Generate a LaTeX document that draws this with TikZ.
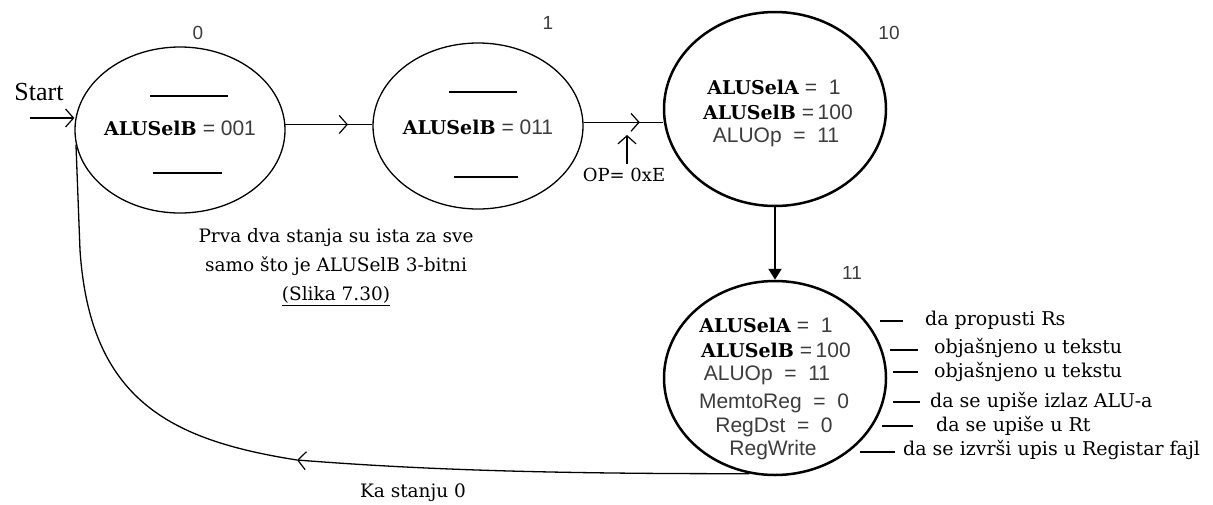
\documentclass[tikz,border=0pt]{standalone}
\usepackage{fontspec}
\setmainfont{DejaVu Serif}
\newfontfamily\slabf{DejaVu Serif}
\newfontfamily\sansf{Liberation Sans}
\newfontfamily\timesf{Liberation Serif}
\usetikzlibrary{shapes.geometric,arrows.meta,decorations.markings}
\definecolor{sanscol}{RGB}{60,60,60}
\newcommand{\Sl}[1]{{\slabf\bfseries\fontsize{19}{24}\selectfont #1}}
\newcommand{\Sa}[1]{{\sansf\fontsize{21}{24}\selectfont\color{sanscol}#1}}
\begin{document}
\begin{tikzpicture}[x=1pt,y=-1pt,
  thinstate/.style={ellipse,draw,line width=1.3pt,inner sep=0pt,minimum width=210pt,minimum height=166pt},
  thickstate/.style={ellipse,draw,line width=2.5pt,inner sep=0pt,minimum width=222pt,minimum height=194pt},
  intext/.style={inner sep=0pt,font=\fontsize{19}{24}\selectfont},
  slabel/.style={inner sep=0pt,font=\sansf\fontsize{19}{22}\selectfont,text=sanscol},
  ann/.style={anchor=west,inner sep=0pt,font=\slabf\fontsize{19}{22}\selectfont},
  conn/.style={line width=1.3pt},
  barb/.style={-{Straight Barb[length=8pt,width=18pt,line width=1.2pt]}},
  midbarb/.style={postaction={decorate},decoration={markings,mark=at position #1 with {\arrow{Straight Barb[length=8pt,width=18pt,line width=1.2pt]}}}},
  dashmark/.style={line width=2pt},
  bar/.style={line width=1.8pt}
]
\useasboundingbox (0,0) rectangle (1213,504);

% states
\node[thinstate] (s0) at (180,130) {};
\node[thinstate] (s1) at (478,126) {};
\node[thickstate] (s10) at (775,109) {};
\node[thickstate] (s11) at (775,378) {};

% state labels
\node[slabel] (l0) at (198,33) {0};
\node[slabel] (l1) at (548,23) {1};
\node[slabel] (l10) at (889,33) {10};
\node[slabel] (l11) at (852,273) {11};

% state 0 content
\draw[bar] (150,96) -- (228,96);
\node[intext] (t0) at (180,128) {\Sl{ALUSelB} \Sa{=\ 001}};
\draw[bar] (153,173) -- (222,173);

% state 1 content
\draw[bar] (449,92) -- (517,92);
\node[intext] (t1) at (478,127) {\Sl{ALUSelB} \Sa{=\ 011}};
\draw[bar] (454,177) -- (518,177);

% state 10 content
\node[intext] (t10a) at (774,87) {\Sl{ALUSelA} \Sa{=\ \ 1}};
\node[intext] (t10b) at (778,112) {\Sl{ALUSelB} \Sa{=\,100}};
\node[intext] (t10c) at (776,137) {\Sa{ALUOp\ \ =\ \ 11}};

% state 11 content
\node[intext] (t11a) at (766,325) {\Sl{ALUSelA} \Sa{=\ \ 1}};
\node[intext] (t11b) at (776,350) {\Sl{ALUSelB} \Sa{=\,100}};
\node[intext] (t11c) at (767,375) {\Sa{ALUOp\ \ =\ \ 11}};
\node[intext] (t11d) at (774,403) {\Sa{MemtoReg\ \ =\ \ 0}};
\node[intext] (t11e) at (774,427) {\Sa{RegDst\ \ =\ \ 0}};
\node[intext] (t11f) at (773,450) {\Sa{RegWrite}};

% start
\node[inner sep=0pt,font=\timesf\fontsize{26}{30}\selectfont] (start) at (39,92) {Start};
\coordinate (startp) at (30,118);
\draw[conn,barb] (startp) -- (startp -| s0.west);

% transitions
\draw[conn,midbarb=0.72] (s0.3) -- (s0.3 -| s1.west);
\draw[conn,midbarb=0.71] (s1.2) -- (s1.2 -| s10.west);

\node[inner sep=0pt,font=\slabf\fontsize{18}{22}\selectfont] (op) at (624,175) {OP= 0xE};
\coordinate (optip) at (627,135);
\draw[conn,barb] (optip |- op.north) ++(0,-4) -- (optip);

\draw[line width=2.2pt,-{Triangle[length=11pt,width=13pt]}] (s10.south) -- (s11.north);

% return path
\coordinate (rt) at (297,460);
\coordinate (c1) at (520,474);
\coordinate (c2) at (400,468);
\coordinate (c3) at (170,440);
\coordinate (c4) at (90,400);
\coordinate (c5) at (80,250);
\draw[conn,barb] (s11.255) .. controls (c1) and (c2) .. (rt);
\draw[conn] (rt) .. controls (c3) and (c4) .. (c5) -- (s0.188);
\node[inner sep=0pt,font=\slabf\fontsize{18.5}{22}\selectfont] (ka) at (413,493) {Ka stanju 0};

% note
\node[align=center,inner sep=0pt,font=\slabf\fontsize{18.5}{29}\selectfont] (note) at (336,267)
  {Prva dva stanja su ista za sve\\samo što je ALUSelB 3-bitni\\\underline{(Slika 7.30)}};

% annotations
\node[ann] (a1) at (925,320) {da propusti Rs};
\node[ann] (a2) at (934,348) {objašnjeno u tekstu};
\node[ann] (a3) at (934,372) {objašnjeno u tekstu};
\node[ann] (a4) at (930,402) {da se upiše izlaz ALU-a};
\node[ann] (a5) at (936,426) {da se upiše u Rt};
\node[ann] (a6) at (903,450) {da se izvrši upis u Registar fajl};
\draw[dashmark] (880,321) -- (903,321);
\draw[dashmark] (890,350) -- (918,350);
\draw[dashmark] (893,372) -- (918,372);
\draw[dashmark] (893,402) -- (920,402);
\draw[dashmark] (882,426) -- (913,426);
\draw[dashmark] (860,452) -- (895,452);
\end{tikzpicture}
\end{document}
